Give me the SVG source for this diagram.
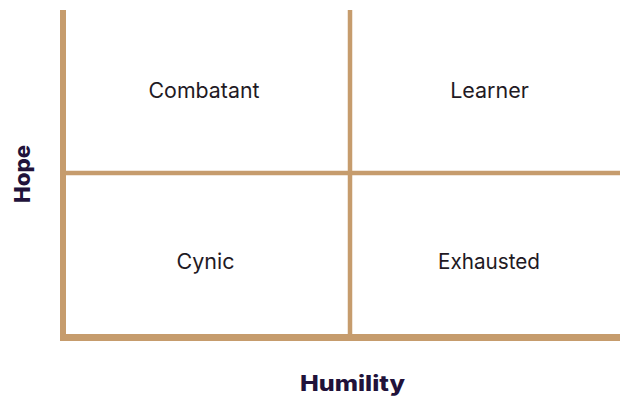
<svg xmlns="http://www.w3.org/2000/svg" width="620" height="397" viewBox="0 0 620 397">
  <style>
    .axis { stroke: #C69C6D; fill: none; }
    .label { font-family: Inter, "Liberation Sans", sans-serif; font-size: 21.5px; fill: #1F1A24; text-anchor: middle; }
    .title { font-family: Inter, "Liberation Sans", sans-serif; font-size: 21px; font-weight: 800; fill: #21123A; text-anchor: middle; }
  </style>
  <rect width="620" height="397" fill="#ffffff"/>
  <g id="connectors">
    <!-- outer axes -->
    <line class="axis" x1="63" y1="10" x2="63" y2="341" stroke-width="6"/>
    <line class="axis" x1="60" y1="337.5" x2="620" y2="337.5" stroke-width="7"/>
    <!-- quadrant dividers -->
    <line class="axis" x1="66" y1="173" x2="620" y2="173" stroke-width="4.5"/>
    <line class="axis" x1="350" y1="10" x2="350" y2="334" stroke-width="4.5"/>
  </g>
  <g id="combatant"><text class="label" x="204" y="97.5" textLength="111" lengthAdjust="spacingAndGlyphs">Combatant</text></g>
  <g id="learner"><text class="label" x="489.5" y="97.5">Learner</text></g>
  <g id="cynic"><text class="label" x="205.5" y="268.5">Cynic</text></g>
  <g id="exhausted"><text class="label" x="489" y="268.5" textLength="102" lengthAdjust="spacingAndGlyphs">Exhausted</text></g>
  <g id="axis-humility"><text class="title" x="352.5" y="391" textLength="105" lengthAdjust="spacingAndGlyphs">Humility</text></g>
  <g id="axis-hope"><text class="title" transform="translate(30,174) rotate(-90)" x="0" y="0" textLength="58" lengthAdjust="spacingAndGlyphs">Hope</text></g>
</svg>
